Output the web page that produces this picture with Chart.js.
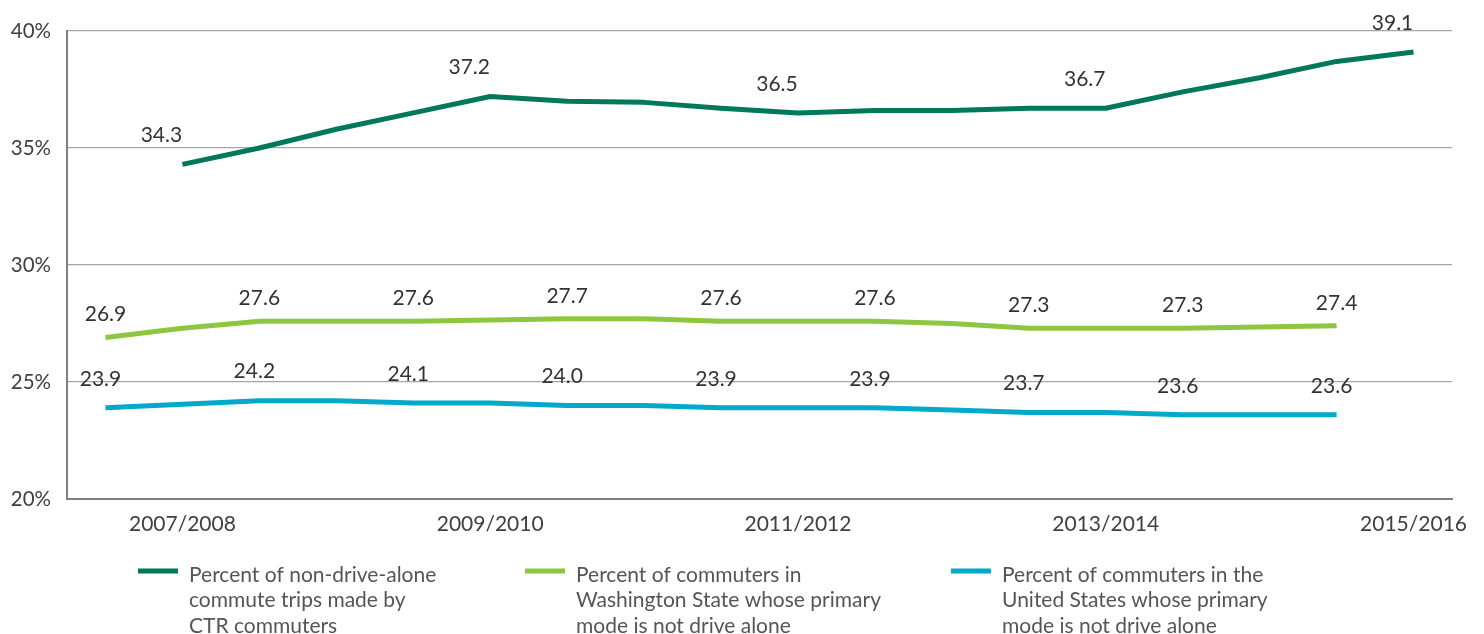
<!DOCTYPE html>
<html>
<head>
<meta charset="utf-8">
<script src="https://cdn.jsdelivr.net/npm/chart.js@4"></script>
<style>
  html, body { margin: 0; padding: 0; background: #fff; }
  #wrap { width: 1484px; height: 634px; position: relative; }
</style>
</head>
<body>
<div id="wrap"><canvas id="myLineChart"></canvas></div>
<script>
// categories along the x axis (only every 4th one carries a tick label)
var categories = ['', '2007/2008', '', '', '', '2009/2010', '', '', '', '2011/2012', '', '', '', '2013/2014', '', '', '', '2015/2016'];

// series values (percent)
var ctrValues = [null, 34.3, 35.0, 35.8, 36.5, 37.2, 37.0, 36.95, 36.7, 36.5, 36.6, 36.6, 36.7, 36.7, 37.4, 38.0, 38.7, 39.1];
var waValues = [26.9, 27.3, 27.6, 27.6, 27.6, 27.65, 27.7, 27.7, 27.6, 27.6, 27.6, 27.5, 27.3, 27.3, 27.3, 27.35, 27.4, null];
var usValues = [23.9, 24.05, 24.2, 24.2, 24.1, 24.1, 24.0, 24.0, 23.9, 23.9, 23.9, 23.8, 23.7, 23.7, 23.6, 23.6, 23.6, null];

// which points get a value label
var ctrLabelled = [1, 5, 9, 13, 17];
var waLabelled = [0, 2, 4, 6, 8, 10, 12, 14, 16];
var usLabelled = [0, 2, 4, 6, 8, 10, 12, 14, 16];

// y tick values
var yTicks = [20, 25, 30, 35, 40];

// legend texts, one line per entry
var legendLines = [
     ['Percent of non-drive-alone', 'commute trips made by', 'CTR commuters'],
     ['Percent of commuters in', 'Washington State whose primary', 'mode is not drive alone'],
     ['Percent of commuters in the', 'United States whose primary', 'mode is not drive alone']
];

var FONT = 'Lato, "Open Sans", sans-serif';

// Plugin to draw the value labels above the points
var valueLabels = {
     id: 'valueLabels',
     afterDatasetsDraw: function (chart) {
          var ctx = chart.ctx;
          ctx.save();
          ctx.font = '21px ' + FONT;
          ctx.fillStyle = '#333333';
          ctx.textAlign = 'center';
          ctx.textBaseline = 'middle';
          chart.data.datasets.forEach(function (ds, i) {
               var meta = chart.getDatasetMeta(i);
               ds.labelled.forEach(function (idx) {
                    var pt = meta.data[idx];
                    ctx.fillText(ds.data[idx].toFixed(1), pt.x + ds.labelDx, pt.y + ds.labelDy);
               });
          });
          ctx.restore();
     }
};

// Plugin to draw the wrapped legend under the chart
var wrappedLegend = {
     id: 'wrappedLegend',
     afterDraw: function (chart) {
          var ctx = chart.ctx;
          var slots = [138, 525, 951];
          ctx.save();
          ctx.font = '21px ' + FONT;
          ctx.textBaseline = 'middle';
          ctx.textAlign = 'left';
          chart.data.datasets.forEach(function (ds, i) {
               var x = slots[i];
               ctx.strokeStyle = ds.borderColor;
               ctx.lineWidth = 5;
               ctx.beginPath();
               ctx.moveTo(x, 571);
               ctx.lineTo(x + 40, 571);
               ctx.stroke();
               ctx.fillStyle = '#555555';
               legendLines[i].forEach(function (line, j) {
                    ctx.fillText(line, x + 51, 575 + j * 25.5);
               });
          });
          ctx.restore();
     }
};

function createCommuteChart() {
     var ctxL = document.getElementById('myLineChart').getContext('2d');
     var common = { borderWidth: 5, pointRadius: 0, tension: 0, fill: false, borderCapStyle: 'butt', borderJoinStyle: 'round' };
     window.myLineChart = new Chart(ctxL, {
          type: 'line',
          data: {
               labels: categories,
               datasets: [
                    Object.assign({ label: legendLines[0].join(' '), data: ctrValues, borderColor: '#00785a', labelled: ctrLabelled, labelDx: -21, labelDy: -29 }, common),
                    Object.assign({ label: legendLines[1].join(' '), data: waValues, borderColor: '#8dc63f', labelled: waLabelled, labelDx: 0, labelDy: -23 }, common),
                    Object.assign({ label: legendLines[2].join(' '), data: usValues, borderColor: '#00aac8', labelled: usLabelled, labelDx: -5, labelDy: -29 }, common)
               ]
          },
          options: {
               responsive: true,
               maintainAspectRatio: false,
               animation: false,
               layout: { padding: { left: 0, right: 32, top: 31, bottom: 95 } },
               scales: {
                    x: {
                         type: 'category',
                         offset: true,
                         grid: { display: false, drawTicks: false },
                         border: { display: true, color: '#808080', width: 2 },
                         ticks: {
                              autoSkip: false,
                              maxRotation: 0,
                              padding: 13,
                              color: '#404040',
                              font: { family: FONT, size: 21 }
                         },
                         afterFit: function (scale) { scale.height = 40; }
                    },
                    y: {
                         min: 20,
                         max: 40,
                         afterBuildTicks: function (scale) {
                              scale.ticks = yTicks.map(function (v) { return { value: v }; });
                         },
                         grid: { color: '#a6a6a6', lineWidth: 1.3, drawTicks: false },
                         border: { display: true, color: '#808080', width: 2 },
                         ticks: {
                              padding: 16,
                              color: '#404040',
                              font: { family: FONT, size: 20.5 },
                              callback: function (v) { return v + '%'; }
                         },
                         afterFit: function (scale) { scale.width = 67; }
                    }
               },
               plugins: {
                    legend: { display: false },
                    tooltip: { enabled: false }
               }
          },
          plugins: [valueLabels, wrappedLegend]
     });
}

createCommuteChart();
</script>
</body>
</html>
